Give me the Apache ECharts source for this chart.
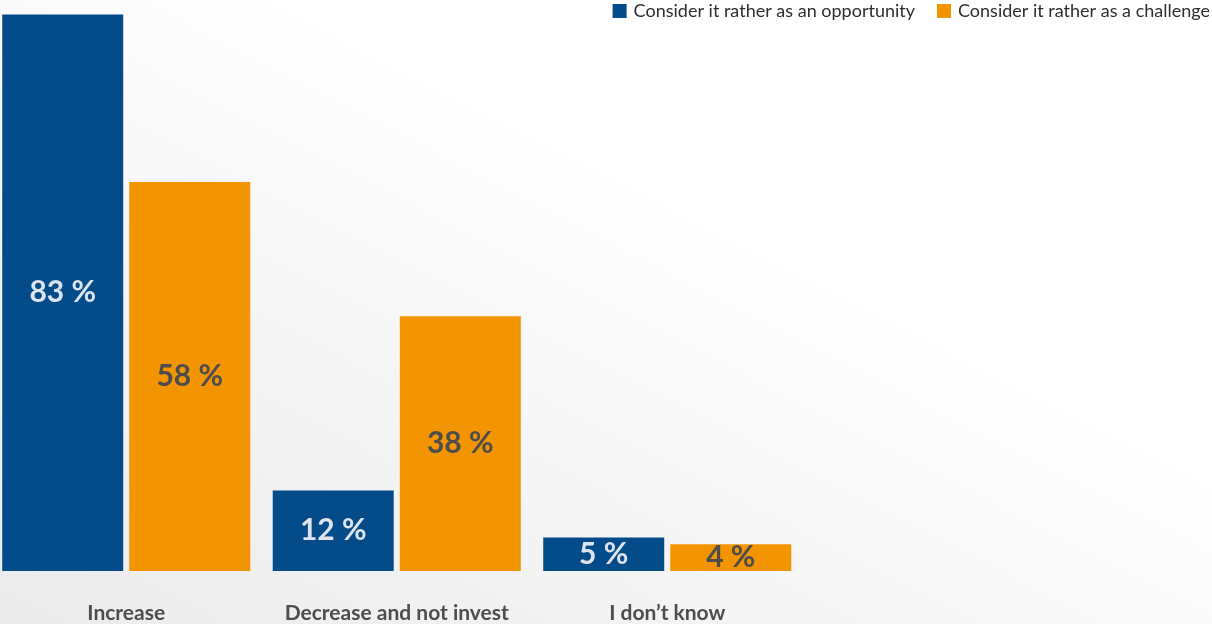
<!DOCTYPE html>
<html>
<head>
<meta charset="utf-8">
<script src="https://cdn.jsdelivr.net/npm/echarts@6/dist/echarts.min.js"></script>
<style>
  html, body { margin: 0; padding: 0; }
  body {
    width: 1212px; height: 624px; overflow: hidden;
    background: linear-gradient(to top right, #ebebeb 0%, #f5f5f5 35%, #ffffff 62%);
  }
  #chart { width: 1212px; height: 624px; }
</style>
</head>
<body>
<div id="chart"></div>
<script>
// Answers per category, in percent
const categories = ['Increase', 'Decrease and not invest', 'I don\u2019t know'];
const opportunity = [83, 12, 5];
const challenge = [58, 38, 4];
const seriesNames = ['Consider it rather as an opportunity', 'Consider it rather as a challenge'];

const FONT = 'Lato, "Noto Sans", sans-serif';

const chart = echarts.init(document.getElementById('chart'), null, { renderer: 'canvas' });

function barSeries(name, values, color, labelColor) {
  return {
    name: name,
    type: 'bar',
    data: values,
    barWidth: 121,
    barGap: '5%',
    itemStyle: { color: color },
    label: {
      show: true,
      position: 'inside',
      formatter: '{c} %',
      color: labelColor,
      fontFamily: FONT,
      fontWeight: 'bold',
      fontSize: 30
    },
    emphasis: { disabled: true }
  };
}

chart.setOption({
  backgroundColor: 'transparent',
  animation: false,
  legend: {
    top: -3,
    right: -3,
    itemWidth: 14,
    itemHeight: 14,
    itemGap: 22,
    icon: 'rect',
    textStyle: { fontFamily: FONT, fontSize: 18, color: '#2e2e2e', padding: [0, 0, 0, 2] }
  },
  grid: {
    left: -9, top: 1, width: 811.5, bottom: 53,
    containLabel: false,
    outerBoundsMode: 'none'
  },
  xAxis: {
    type: 'category',
    data: categories,
    axisLine: { show: false },
    axisTick: { show: false },
    axisLabel: {
      margin: 32,
      fontFamily: FONT,
      fontWeight: 'bold',
      fontSize: 21,
      color: '#4d4d4d',
      interval: 0
    }
  },
  yAxis: {
    type: 'value',
    min: 0,
    max: 85,
    show: false
  },
  series: [
    barSeries(seriesNames[0], opportunity, '#034b89', '#dde4ee'),
    barSeries(seriesNames[1], challenge, '#f39500', '#4d4d4d')
  ]
});
</script>
</body>
</html>
